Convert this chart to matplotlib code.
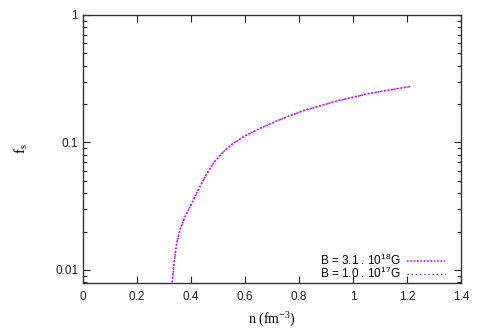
import matplotlib
matplotlib.use("Agg")
import matplotlib.pyplot as plt
from matplotlib.ticker import LogLocator, NullFormatter, FixedLocator, FixedFormatter

n_a = [0.3307, 0.337, 0.347, 0.359, 0.378, 0.403, 0.427, 0.452, 0.483, 0.520, 0.557, 0.606, 0.656, 0.700, 0.740, 0.816, 0.940, 1.063, 1.140, 1.209]
fs_a = [0.00801, 0.0113, 0.0162, 0.0206, 0.0262, 0.0333, 0.0424, 0.0539, 0.0687, 0.0847, 0.0986, 0.1145, 0.129, 0.142, 0.154, 0.1776, 0.2115, 0.243, 0.259, 0.274]
n_b = [0.3307, 0.337, 0.347, 0.359, 0.378, 0.403, 0.427, 0.452, 0.483, 0.520, 0.557, 0.606, 0.656, 0.700, 0.740, 0.816, 0.940, 1.063, 1.140, 1.209, 1.223]
fs_b = [0.00801, 0.0113, 0.0162, 0.0206, 0.0262, 0.0333, 0.0424, 0.0539, 0.0687, 0.0847, 0.0986, 0.1145, 0.129, 0.142, 0.154, 0.1776, 0.2115, 0.243, 0.259, 0.274, 0.276]
label_a = "B = 3.1 . 10$^{\\mathsf{18}}$G"
label_b = "B = 1.0 . 10$^{\\mathsf{17}}$G"
xticks = [0, 0.2, 0.4, 0.6, 0.8, 1, 1.2, 1.4]
xtick_labels = ["0", "0.2", "0.4", "0.6", "0.8", "1", "1.2", "1.4"]
yticks = [0.01, 0.1, 1]
ytick_labels = ["0.01", "0.1", "1"]

plt.rcParams['font.family'] = ['Liberation Sans', 'DejaVu Sans']
plt.rcParams['mathtext.fontset'] = 'custom'
plt.rcParams['mathtext.rm'] = 'Liberation Serif'
plt.rcParams['mathtext.sf'] = 'Liberation Sans'
plt.rcParams['axes.unicode_minus'] = False

fig = plt.figure(figsize=(4.79, 3.35), dpi=100)
ax = fig.add_axes([83/479, 52/335, 378/479, 268/335])

ax.plot(n_b, fs_b, color='#4040ff', linestyle=(0, (1, 2)), linewidth=1.0, label=label_b)
ax.plot(n_a, fs_a, color='#ff00ff', linestyle=(0, (1, 1)), linewidth=1.2, label=label_a)

ax.set_yscale('log')
ax.set_xlim(0, 1.4)
ax.set_ylim(0.0079, 1)
ax.xaxis.set_major_locator(FixedLocator(xticks))
ax.xaxis.set_major_formatter(FixedFormatter(xtick_labels))
ax.yaxis.set_major_locator(FixedLocator(yticks))
ax.yaxis.set_major_formatter(FixedFormatter(ytick_labels))
ax.yaxis.set_minor_locator(LogLocator(base=10, subs=range(2, 10)))
ax.yaxis.set_minor_formatter(NullFormatter())

ax.tick_params(which='both', direction='in', top=True, right=True, labelsize=8.5, colors='#222222', width=0.8)
ax.tick_params(which='major', length=5)
ax.tick_params(which='minor', length=3)
ax.tick_params(axis='x', pad=6)
for s in ax.spines.values():
    s.set_color('#333333')
    s.set_linewidth(1.0)

ax.set_xlabel("n (fm$^{\\mathrm{-3}}$)", family='Liberation Serif', fontsize=10, labelpad=4)
ax.set_ylabel("f$_{\\mathrm{s}}$", family='Liberation Serif', fontsize=11, labelpad=18)

handles, labels = ax.get_legend_handles_labels()
leg = ax.legend(handles[::-1], labels[::-1], loc='lower right', frameon=False, fontsize=8.5,
                markerfirst=False, handlelength=3.2, handletextpad=0.6, labelspacing=-0.12,
                borderaxespad=0.3, bbox_to_anchor=(0.98, -0.025))

fig.savefig("out.png", dpi=100)
